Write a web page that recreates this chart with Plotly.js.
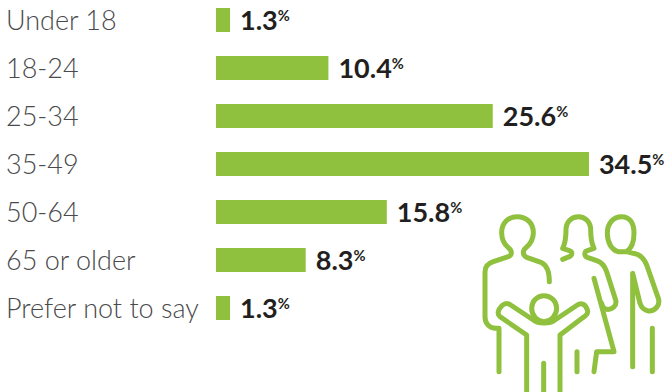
<!DOCTYPE html>
<html>
<head>
<meta charset="utf-8">
<script src="https://cdn.plot.ly/plotly-3.0.1.min.js"></script>
<style>html,body{margin:0;padding:0;background:#fff}</style>
</head>
<body>
<div id="chart" style="width:667px;height:392px"></div>
<script>
// Respondent age groups, share of respondents in percent
const ageGroups = ['Under 18', '18-24', '25-34', '35-49', '50-64', '65 or older', 'Prefer not to say'];
const shares = [1.3, 10.4, 25.6, 34.5, 15.8, 8.3, 1.3];

const GREEN = '#8fc03e';
const pxPerUnit = 10.81;
const rowPitch = 48;
const W = 667, H = 392, barLeft = 216;
const rows = ageGroups.map((_, i) => i);

// Family pictogram outlines, drawn at triple scale from the corner (470, 200)
const figurePaths = [
  // father
  'M87 515 L87 385 L75 385 C55 382 45 368 45 350 L45 215 C45 198 55 190 70 185 L115 170 C127 165 127 152 115 143 C100 130 95 115 95 98 C95 68 115 50 142 50 C168 50 190 68 190 98 C190 115 183 130 168 143 C157 152 157 165 170 172 L215 188 C232 196 238 215 238 245',
  // mother
  'M278 178 L298 170 C308 165 308 155 298 152 L278 145 C288 125 288 110 288 90 C288 65 305 50 325 50 C345 50 362 65 362 90 C362 110 365 130 372 145 L352 152 C342 155 342 168 352 172 L380 182 C398 188 405 200 410 215 L437 300 C442 318 425 330 410 328 C402 327 398 322 395 310',
  'M372 235 L432 455 L380 455 L372 515',
  'M321 455 L321 515',
  // grandparent
  'M445 155 C425 150 412 128 412 100 C412 70 430 50 455 50 C480 50 492 70 492 100 C492 125 485 145 470 155 L445 155 M470 155 L490 160 C510 163 522 175 530 195 L565 295 C572 318 552 335 535 333 C522 331 515 325 510 310 L488 220 L488 500',
  'M547 385 L547 515',
  // child
  'M170 576 L170 405 L90 350 C80 342 85 328 95 318 C103 308 115 310 122 315 L190 360 C205 372 240 372 255 360 L322 315 C332 308 345 312 350 325 C358 338 350 345 340 352 L270 405 L270 576',
  'M185 325 C185 303 202 287 222 287 C242 287 260 303 260 325 C260 347 242 365 222 365 C202 365 185 347 185 325',
  'M221 490 L221 576'
];

// Maps the triple-scale outline coordinates onto paper fractions of the page
function toPaper(path) {
  let i = 0;
  return path.replace(/\d+(\.\d+)?/g, n => {
    const v = Number(n) / 3;
    return ((i++ % 2 === 0) ? (470 + v) / W : 1 - (200 + v) / H).toFixed(5);
  });
}

const shapes = figurePaths.map(p => ({
  type: 'path', xref: 'paper', yref: 'paper',
  path: toPaper(p),
  line: {color: GREEN, width: 5},
  fillcolor: 'rgba(0,0,0,0)'
}));

const barTrace = {
  type: 'bar', orientation: 'h',
  x: shares, y: rows, width: 0.5,
  marker: {color: GREEN, line: {width: 0}},
  hoverinfo: 'skip'
};

// Left-aligned category names in the gutter before the bars
const nameTrace = {
  type: 'scatter', mode: 'text',
  x: rows.map(() => (6 - barLeft) / pxPerUnit), y: rows.map(i => i + 3 / rowPitch),
  text: ageGroups, textposition: 'middle right',
  textfont: {family: 'Lato, sans-serif', size: 27, color: '#4a4a4c', weight: 300},
  cliponaxis: false, hoverinfo: 'skip'
};

// Value labels just past each bar end
const valueTrace = {
  type: 'scatter', mode: 'text',
  x: shares.map(v => v + 10 / pxPerUnit), y: rows.map(i => i + 3 / rowPitch),
  text: shares.map(v => v.toFixed(1) + '<span style="font-size:21px"><sup>%</sup></span>'),
  textposition: 'middle right',
  textfont: {family: 'Lato, sans-serif', size: 27, color: '#231f20', weight: 700},
  cliponaxis: false, hoverinfo: 'skip'
};

const layout = {
  width: W, height: H,
  margin: {l: 0, r: 0, t: 0, b: 0, pad: 0},
  paper_bgcolor: '#fff', plot_bgcolor: '#fff',
  showlegend: false,
  xaxis: {range: [-barLeft / pxPerUnit, (W - barLeft) / pxPerUnit], visible: false, fixedrange: true},
  yaxis: {range: [(H - 20) / rowPitch, -20 / rowPitch], visible: false, fixedrange: true},
  shapes
};

Plotly.newPlot('chart', [barTrace, nameTrace, valueTrace], layout, {displayModeBar: false}).then(() => {
  document.querySelectorAll('.shapelayer path').forEach(el => {
    el.style.strokeLinecap = 'round';
    el.style.strokeLinejoin = 'round';
  });
});
</script>
</body>
</html>
